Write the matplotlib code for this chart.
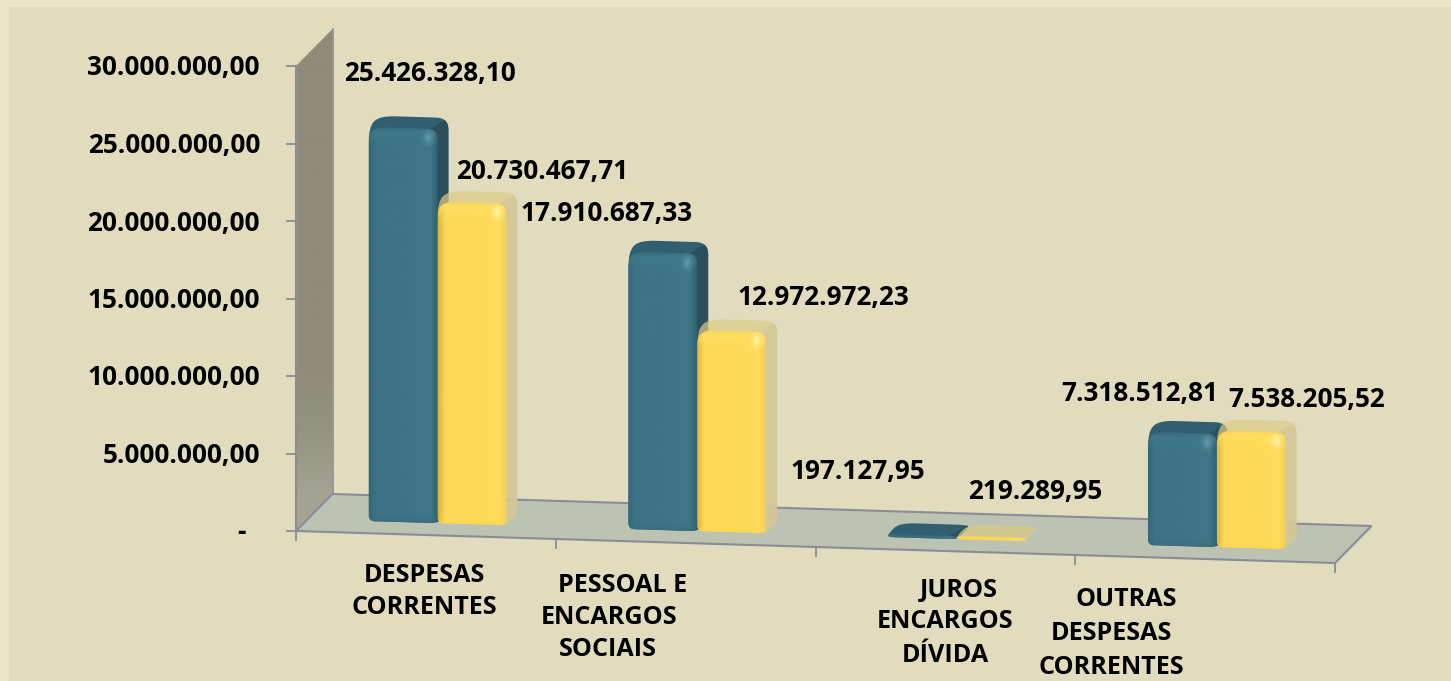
import numpy as np
import matplotlib
matplotlib.use("Agg")
import matplotlib.pyplot as plt
from matplotlib.path import Path
from matplotlib.patches import PathPatch, Polygon, Rectangle
from matplotlib.transforms import Affine2D

# values
categories = [
    ["DESPESAS", "CORRENTES"],
    ["PESSOAL E", "ENCARGOS", "SOCIAIS"],
    ["JUROS", "ENCARGOS", "DÍVIDA"],
    ["OUTRAS", "DESPESAS", "CORRENTES"],
]
series_a = [25426328.10, 17910687.33, 197127.95, 7318512.81]
series_b = [20730467.71, 12972972.23, 219289.95, 7538205.52]
y_ticks = [0, 5e6, 10e6, 15e6, 20e6, 25e6, 30e6]
y_tick_labels = ["-", "5.000.000,00", "10.000.000,00", "15.000.000,00",
                 "20.000.000,00", "25.000.000,00", "30.000.000,00"]

W, H = 1451, 681
FONT = "Open Sans"
FS = 18.8
FS_CAT = 18.1

fig = plt.figure(figsize=(W / 100, H / 100), dpi=100)
ax = fig.add_axes([0, 0, 1, 1])
ax.set_xlim(0, W)
ax.set_ylim(H, 0)
ax.axis("off")
fig.patch.set_facecolor("#ebe6c8")
ax.add_patch(Rectangle((9, 7), W - 9, H - 7, fc="#e1dcbe", ec="none", zorder=0))


def chart_tf(depth=0.0):
    # oblique projection: category, value -> picture pixels
    m = Affine2D.from_values(259.75, 8.0, 0, -15.5e-6, 296 + 36.5 * depth, 531 - 37 * depth)
    return m


def pts(c, v, d):
    return chart_tf(d).transform((c, v))


def rounded_path(corners, radii):
    corners = np.asarray(corners, float)
    n = len(corners)
    verts, codes = [], []
    for i in range(n):
        p = corners[i]
        a, b = corners[i - 1], corners[(i + 1) % n]
        la, lb = np.hypot(*(a - p)), np.hypot(*(b - p))
        ra = min(radii[i], la * 0.45)
        rb = min(radii[i], lb * 0.45)
        start = p + (a - p) / la * ra
        end = p + (b - p) / lb * rb
        verts += [start, p, end]
        codes += [Path.LINETO if i else Path.MOVETO, Path.CURVE3, Path.CURVE3]
    verts.append(verts[0])
    codes.append(Path.CLOSEPOLY)
    return Path(verts, codes)


def gradient(clip_path, bbox, img, zorder):
    im = ax.imshow(img, extent=(bbox[0], bbox[1], bbox[3], bbox[2]), aspect="auto",
                   interpolation="bilinear", zorder=zorder)
    im.set_clip_path(PathPatch(clip_path, transform=ax.transData))
    ax.set_xlim(0, W)
    ax.set_ylim(H, 0)


def hexcol(s):
    return np.array(matplotlib.colors.to_rgb(s))


def bar_image(w, h, style):
    # front face shading, built per pixel from a few colour stops
    edge, body, light = hexcol(style["edge"]), hexcol(style["body"]), hexcol(style["light"])
    top_light, spot, bottom = hexcol(style["top_light"]), hexcol(style["spot"]), hexcol(style["bottom"])
    rim = hexcol(style["rim"])
    w, h = max(int(w), 2), max(int(h), 2)
    u = np.linspace(0, 1, w)
    stops_u = [0, 7 / w, 0.5, 1 - 7 / w, 1]
    img = np.zeros((h, w, 3))
    for k in range(3):
        img[:, :, k] = np.interp(u, stops_u, [edge[k], body[k], body[k], light[k], rim[k]])
    ys = np.arange(h)
    top = np.clip(1 - ys / 18.0, 0, 1)[:, None, None]
    img = img * (1 - top) + top_light * top
    soft = np.clip(1 - ys / 6.0, 0, 1)[:, None, None] * 0.7
    img = img * (1 - soft) + rim * soft
    bot = np.clip((ys - (h - 7)) / 7.0, 0, 1)[:, None, None]
    img = img * (1 - bot) + bottom * bot
    # small highlight near the top right corner
    xx, yy = np.meshgrid(np.arange(w), ys)
    g = np.exp(-(((xx - (w - 10)) / 4.5) ** 2 + ((yy - 11) / 6.0) ** 2))[:, :, None]
    return img * (1 - g) + spot * g


def draw_bar(c0, c1, value, d0, d1, style, z):
    fbl, fbr = pts(c0, 0, d0), pts(c1, 0, d0)
    ftl, ftr = pts(c0, value, d0), pts(c1, value, d0)
    btl, btr = pts(c0, value, d1), pts(c1, value, d1)
    bbr = pts(c1, 0, d1)
    sil = rounded_path([fbl, ftl, btl, btr, bbr, fbr], [6, 16, 16, 12, 6, 6])
    ax.add_patch(PathPatch(sil, fc=style["top"], ec="none", alpha=style["alpha"], zorder=z))
    side = Polygon([ftr - [8, 0], btr, bbr, fbr], closed=True, fc=style["side"], ec="none",
                   alpha=style["alpha"], zorder=z + 0.1)
    ax.add_patch(side)
    side.set_clip_path(PathPatch(sil, transform=ax.transData))
    front = rounded_path([fbl, ftl, ftr, fbr], [6, 15, 10, 6])
    xs = [fbl[0], fbr[0]]
    ys = [min(ftl[1], ftr[1]), max(fbl[1], fbr[1])]
    img = bar_image(xs[1] - xs[0], ys[1] - ys[0], style)
    gradient(front, (xs[0], xs[1], ys[0], ys[1]), img, z + 0.2)


blue = dict(top="#2f5f70", side="#2b4f5c", alpha=1.0, edge="#36677a", body="#3d7386", light="#3f7789",
            top_light="#3f7a8d", spot="#6096a8", bottom="#396c7e", rim="#33616f")
yellow = dict(top="#dfcb84", side="#d1c79f", alpha=0.7, edge="#dcb63f", body="#ffd958", light="#ffdc5c",
              top_light="#ffdf60", spot="#fff2a0", bottom="#ffd64f", rim="#f3cf58")

# back wall
wall = np.array([pts(0, 0, 0), pts(0, 30e6, 0), pts(0, 30e6, 1), pts(0, 0, 1)])
wall_path = Path(np.vstack([wall, wall[:1]]), closed=True)
wall_stops = [hexcol("#8e8b78")] * 5 + [hexcol("#93917f"), hexcol("#a5a393")]
wall_img = np.array(wall_stops)[:, None, :]
gradient(wall_path, (wall[0][0], wall[2][0], wall[2][1], wall[0][1]), wall_img, 1)
ax.plot(wall[[0, 1], 0], wall[[0, 1], 1], color="#8d8d94", lw=1.5, zorder=1.5)
ax.plot(wall[[3, 2], 0], wall[[3, 2], 1], color="#8d8d94", lw=1.2, zorder=1.5)

# floor
floor = np.array([pts(0, 0, 0), pts(4, 0, 0), pts(4, 0, 1), pts(0, 0, 1)])
ax.add_patch(Polygon(floor, closed=True, fc="#bdc3b2", ec="#8a8c98", lw=1.5, zorder=2))

# ticks and axis labels
for v, lab in zip(y_ticks, y_tick_labels):
    p = pts(0, v, 0)
    ax.plot([p[0] - 9, p[0]], [p[1], p[1]], color="#8d8d94", lw=1.3, zorder=1.5)
    tx = 246 if lab == "-" else 260
    ax.text(tx, p[1] + 2, lab, ha="right", va="center", fontfamily=FONT, fontweight="bold",
            fontsize=FS, color="black", zorder=6)
for c in range(5):
    p = pts(c, 0, 0)
    ax.plot([p[0], p[0]], [p[1], p[1] + 9], color="#8d8d94", lw=1.3, zorder=1.5)

# bars
width = 0.265
d_front, d_back = 0.32, 0.62
for i in range(len(series_a)):
    draw_bar(i + 0.5 - width, i + 0.5, series_a[i], d_front, d_back, blue, 3 + i)
    draw_bar(i + 0.5, i + 0.5 + width, series_b[i], d_front, d_back, yellow, 3.5 + i)

# value labels
label_a_xy = [(430, 73), (607, 214), (858, 471), (1140, 394)]
label_b_xy = [(542, 172), (823, 297), (1035, 492), (1307, 399)]
for v, xy in zip(series_a + series_b, label_a_xy + label_b_xy):
    txt = f"{v:,.2f}".replace(",", "#").replace(".", ",").replace("#", ".")
    ax.text(xy[0], xy[1], txt, ha="center", va="center", fontfamily=FONT, fontweight="bold",
            fontsize=FS, color="black", zorder=10)

# category labels, line by line
cat_x = [[424, 424], [623, 609, 608], [959, 945, 945], [1126, 1111, 1111]]
cat_y = [[575, 607], [585, 617, 650], [590, 622, 655], [600, 633, 667]]
for lines, xs, ys in zip(categories, cat_x, cat_y):
    for line, x, y in zip(lines, xs, ys):
        ax.text(x, y, line, ha="center", va="center", fontfamily=FONT, fontweight="bold",
                fontsize=FS_CAT, color="black", zorder=10)

fig.savefig("out.png", dpi=100, facecolor=fig.get_facecolor())
